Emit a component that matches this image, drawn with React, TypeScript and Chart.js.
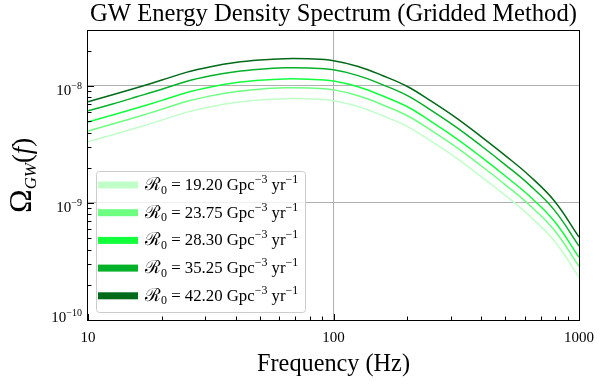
import React, { useEffect, useRef } from 'react';
import { Chart, registerables } from 'chart.js';

Chart.register(...registerables);

// ---------- data ----------
const FREQ = [10, 12.6, 15.8, 20, 25.1, 31.6, 39.8, 50.1, 63.1, 79.4, 100, 126, 158, 200, 251, 316, 398, 501, 631, 794, 1000];

const RATES = ['19.20', '23.75', '28.30', '35.25', '42.20'];

const OMEGA_1920 = [3.34e-9, 3.83e-9, 4.4e-9, 5.11e-9, 5.95e-9, 6.65e-9, 7.23e-9, 7.59e-9, 7.79e-9, 7.76e-9, 7.48e-9, 6.68e-9, 5.59e-9, 4.5e-9, 3.35e-9, 2.43e-9, 1.69e-9, 1.16e-9, 7.71e-10, 4.73e-10, 2.33e-10];
const OMEGA_2375 = [4.13e-9, 4.73e-9, 5.44e-9, 6.32e-9, 7.36e-9, 8.23e-9, 8.94e-9, 9.39e-9, 9.64e-9, 9.6e-9, 9.26e-9, 8.26e-9, 6.92e-9, 5.57e-9, 4.15e-9, 3.0e-9, 2.09e-9, 1.43e-9, 9.53e-10, 5.85e-10, 2.88e-10];
const OMEGA_2830 = [4.92e-9, 5.64e-9, 6.48e-9, 7.53e-9, 8.76e-9, 9.8e-9, 1.065e-8, 1.119e-8, 1.148e-8, 1.143e-8, 1.103e-8, 9.84e-9, 8.24e-9, 6.64e-9, 4.94e-9, 3.57e-9, 2.49e-9, 1.7e-9, 1.136e-9, 6.97e-10, 3.43e-10];
const OMEGA_3525 = [6.13e-9, 7.02e-9, 8.08e-9, 9.38e-9, 1.092e-8, 1.221e-8, 1.326e-8, 1.393e-8, 1.43e-8, 1.424e-8, 1.374e-8, 1.226e-8, 1.027e-8, 8.27e-9, 6.16e-9, 4.45e-9, 3.1e-9, 2.12e-9, 1.415e-9, 8.69e-10, 4.28e-10];
const OMEGA_4220 = [7.34e-9, 8.41e-9, 9.67e-9, 1.123e-8, 1.307e-8, 1.462e-8, 1.588e-8, 1.668e-8, 1.712e-8, 1.705e-8, 1.645e-8, 1.468e-8, 1.229e-8, 9.9e-9, 7.37e-9, 5.33e-9, 3.71e-9, 2.54e-9, 1.694e-9, 1.04e-9, 5.12e-10];

const SERIES = [OMEGA_1920, OMEGA_2375, OMEGA_2830, OMEGA_3525, OMEGA_4220];

const X_TICKS = [10, 100, 1000];
const X_TICK_LABELS = ['10', '100', '1000'];
const Y_TICKS = [1e-10, 1e-9, 1e-8];
const Y_TICK_EXPONENTS = ['−10', '−9', '−8'];

const TITLE = 'GW Energy Density Spectrum (Gridded Method)';
const X_TITLE = 'Frequency (Hz)';

// ---------- styles ----------
const COLORS = ['#c1ffc9', '#6cff80', '#12ff3c', '#06b12a', '#006a18'];
const SERIF = '"Liberation Serif", "DejaVu Serif", serif';

type Seg = { t: string; size: number; dy?: number; italic?: boolean };

function setFont(ctx: CanvasRenderingContext2D, s: Seg, k: number) {
  ctx.font = `${s.italic ? 'italic ' : ''}${s.size * k}px ${SERIF}`;
}
function segsWidth(ctx: CanvasRenderingContext2D, segs: Seg[], k: number) {
  let w = 0;
  for (const s of segs) {
    setFont(ctx, s, k);
    w += ctx.measureText(s.t).width;
  }
  return w;
}
function drawSegs(ctx: CanvasRenderingContext2D, segs: Seg[], x: number, y: number, k: number) {
  let cx = x;
  for (const s of segs) {
    setFont(ctx, s, k);
    ctx.fillText(s.t, cx, y + (s.dy || 0) * k);
    cx += ctx.measureText(s.t).width;
  }
}
function fitK(ctx: CanvasRenderingContext2D, segs: Seg[], target: number, lo = 0.8, hi = 1.25) {
  const w = segsWidth(ctx, segs, 1);
  return Math.max(lo, Math.min(hi, target / w));
}

const decor = {
  id: 'decor',
  afterDatasetsDraw(chart: any) {
    const { ctx, chartArea: a, scales } = chart;
    const xs = scales.x;
    const ys = scales.y;
    ctx.save();
    ctx.textAlign = 'left';
    ctx.textBaseline = 'alphabetic';
    ctx.fillStyle = '#000';

    // frame
    ctx.strokeStyle = '#000';
    ctx.lineWidth = 1;
    ctx.strokeRect(a.left - 0.5, a.top - 0.5, a.right - a.left + 1, a.bottom - a.top + 1);

    // ticks (inward)
    ctx.beginPath();
    for (const v of Y_TICKS) {
      const py = Math.round(ys.getPixelForValue(v)) + 0.5;
      ctx.moveTo(a.left, py);
      ctx.lineTo(a.left + 6, py);
    }
    for (const d of [1e-10, 1e-9, 1e-8]) {
      for (let m = 2; m <= 9; m++) {
        const v = m * d;
        if (v > ys.max) continue;
        const py = Math.round(ys.getPixelForValue(v)) + 0.5;
        ctx.moveTo(a.left, py);
        ctx.lineTo(a.left + 3.5, py);
      }
    }
    for (const v of X_TICKS) {
      const px = Math.round(xs.getPixelForValue(v)) + 0.5;
      ctx.moveTo(px, a.bottom);
      ctx.lineTo(px, a.bottom - 6);
    }
    for (const d of [10, 100]) {
      for (let m = 2; m <= 9; m++) {
        const px = Math.round(xs.getPixelForValue(m * d)) + 0.5;
        ctx.moveTo(px, a.bottom);
        ctx.lineTo(px, a.bottom - 3.5);
      }
    }
    ctx.stroke();

    // x tick labels
    X_TICKS.forEach((v, i) => {
      const segs: Seg[] = [{ t: X_TICK_LABELS[i], size: 15 }];
      const w = segsWidth(ctx, segs, 1);
      drawSegs(ctx, segs, xs.getPixelForValue(v) - w / 2, a.bottom + 22, 1);
    });

    // y tick labels
    Y_TICKS.forEach((v, i) => {
      const segs: Seg[] = [
        { t: '10', size: 15 },
        { t: Y_TICK_EXPONENTS[i], size: 10, dy: -6 },
      ];
      const w = segsWidth(ctx, segs, 1);
      const py = ys.getPixelForValue(v);
      const base = i === 0 ? py + 2 : py + 9;
      drawSegs(ctx, segs, a.left - 6 - w, base, 1);
    });

    // title
    const cx = (a.left + a.right) / 2;
    const tSegs: Seg[] = [{ t: TITLE, size: 24 }];
    const tk = fitK(ctx, tSegs, 487);
    const tw = segsWidth(ctx, tSegs, tk);
    drawSegs(ctx, tSegs, cx - tw / 2, 21, tk);

    // x title
    const xSegs: Seg[] = [{ t: X_TITLE, size: 21 }];
    const xk = fitK(ctx, xSegs, 153);
    const xw = segsWidth(ctx, xSegs, xk);
    drawSegs(ctx, xSegs, cx - xw / 2, 371, xk);

    // y title
    const ySegs: Seg[] = [
      { t: 'Ω', size: 30 },
      { t: 'GW', size: 16, italic: true, dy: 5 },
      { t: '(', size: 25 },
      { t: 'f', size: 25, italic: true },
      { t: ')', size: 25 },
    ];
    const yk = fitK(ctx, ySegs, 75, 0.8, 1.1);
    const yw = segsWidth(ctx, ySegs, yk);
    ctx.save();
    ctx.translate(31, (a.top + a.bottom) / 2);
    ctx.rotate(-Math.PI / 2);
    drawSegs(ctx, ySegs, -yw / 2, 0, yk);
    ctx.restore();

    // legend
    const lx = a.left + 8;
    const ly = 171;
    const lw = 209;
    const lh = 141;
    ctx.beginPath();
    ctx.roundRect(lx + 0.5, ly + 0.5, lw, lh, 3);
    ctx.fillStyle = 'rgba(255,255,255,0.8)';
    ctx.fill();
    ctx.strokeStyle = '#cccccc';
    ctx.lineWidth = 1;
    ctx.stroke();

    chart.data.datasets.forEach((ds: any, i: number) => {
      const yc = ly + 14 + i * 27.7;
      ctx.fillStyle = ds.borderColor;
      ctx.fillRect(lx + 2, yc - 3.5, 40, 7);
      ctx.fillStyle = '#000';
      const segs: Seg[] = [
        { t: 'ℛ', size: 15 },
        { t: '0', size: 10, dy: 3 },
        { t: ' = ' + RATES[i] + ' Gpc', size: 14 },
        { t: '−3', size: 10, dy: -6 },
        { t: ' yr', size: 14 },
        { t: '−1', size: 10, dy: -6 },
      ];
      const k = fitK(ctx, segs, 153);
      drawSegs(ctx, segs, lx + 49, yc + 5, k);
    });

    ctx.restore();
  },
};

export default function App() {
  const ref = useRef<HTMLCanvasElement | null>(null);

  useEffect(() => {
    if (!ref.current) return;
    const chart = new Chart(ref.current, {
      type: 'line',
      data: {
        datasets: SERIES.map((vals, i) => ({
          label: RATES[i],
          data: FREQ.map((f, j) => ({ x: f, y: vals[j] })),
          borderColor: COLORS[i],
          backgroundColor: COLORS[i],
          borderWidth: 1.5,
          pointRadius: 0,
          fill: false,
          tension: 0.4,
        })),
      },
      options: {
        animation: false,
        responsive: true,
        maintainAspectRatio: false,
        devicePixelRatio: 1,
        layout: { padding: { top: 31, right: 27, left: 0, bottom: 0 } },
        plugins: {
          legend: { display: false },
          title: { display: false },
          tooltip: { enabled: false },
        },
        scales: {
          x: {
            type: 'logarithmic',
            min: 10,
            max: 1000,
            afterBuildTicks: (s: any) => {
              s.ticks = X_TICKS.map((v) => ({ value: v }));
            },
            afterFit: (s: any) => {
              s.height = 64;
            },
            ticks: { display: false },
            border: { display: false },
            grid: {
              drawTicks: false,
              lineWidth: 1,
              color: (c: any) => (c.tick && c.tick.value === 100 ? '#b0b0b0' : 'rgba(0,0,0,0)'),
            },
          },
          y: {
            type: 'logarithmic',
            min: 1e-10,
            max: 2.95e-8,
            afterBuildTicks: (s: any) => {
              s.ticks = Y_TICKS.map((v) => ({ value: v }));
            },
            afterFit: (s: any) => {
              s.width = 88;
            },
            ticks: { display: false },
            border: { display: false },
            grid: {
              drawTicks: false,
              lineWidth: 1,
              color: (c: any) =>
                c.tick && (c.tick.value === 1e-9 || c.tick.value === 1e-8) ? '#b0b0b0' : 'rgba(0,0,0,0)',
            },
          },
        },
      } as any,
      plugins: [decor],
    });
    return () => chart.destroy();
  }, []);

  return (
    <div style={{ position: 'fixed', left: 0, top: 0, width: 606, height: 384, background: '#fff' }}>
      <canvas ref={ref} />
    </div>
  );
}
